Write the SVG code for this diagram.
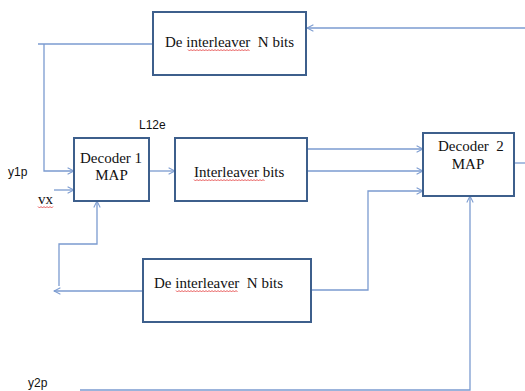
<svg xmlns="http://www.w3.org/2000/svg" width="525" height="391" viewBox="0 0 525 391">
<defs>
<marker id="arr" viewBox="0 0 10 10" refX="9" refY="5" markerWidth="8" markerHeight="8" markerUnits="userSpaceOnUse" orient="auto">
<path d="M1,1 L9,5 L1,9" fill="none" stroke="#7b9bd0" stroke-width="1.3"/>
</marker>
<style>
.box{fill:#fff;stroke:#3d5f8c;stroke-width:2}
.ser{font-family:"Liberation Serif","Times New Roman",serif;font-size:15px;fill:#111;white-space:pre}
.san{font-family:"Liberation Sans",Arial,sans-serif;font-size:12px;fill:#111}
.c{fill:none;stroke:#7b9bd0;stroke-width:1.3}
.sq{fill:none;stroke:#e03030;stroke-width:0.8}
</style>
</defs>
<rect width="525" height="391" fill="#fff"/>
<g id="connectors">
<path class="c" d="M525,28 H307" marker-end="url(#arr)"/>
<path class="c" d="M38,44 H153"/>
<path class="c" d="M44,44 V171 H74" marker-end="url(#arr)"/>
<path class="c" d="M54,190 H74" marker-end="url(#arr)"/>
<path class="c" d="M59,286 V244 H97 V201" marker-end="url(#arr)"/>
<path class="c" d="M143,291 H54" marker-end="url(#arr)"/>
<path class="c" d="M149,171 H175" marker-end="url(#arr)"/>
<path class="c" d="M307,149 H423" marker-end="url(#arr)"/>
<path class="c" d="M307,171 H423" marker-end="url(#arr)"/>
<path class="c" d="M311,290 H368 V191 H423" marker-end="url(#arr)"/>
<path class="c" d="M80,390 H470 V196" marker-end="url(#arr)"/>
<path class="c" d="M514,163 H525"/>
</g>
<g id="deinterleaver-top">
<rect class="box" x="153" y="12" width="153" height="63"/>
<text class="ser" x="165" y="47" xml:space="preserve">De interleaver  N bits</text>
<path class="sq" d="M188,49.5 l1.5,1.5 l1.5,-1.5 l1.5,1.5 l1.5,-1.5 l1.5,1.5 l1.5,-1.5 l1.5,1.5 l1.5,-1.5 l1.5,1.5 l1.5,-1.5 l1.5,1.5 l1.5,-1.5 l1.5,1.5 l1.5,-1.5 l1.5,1.5 l1.5,-1.5 l1.5,1.5 l1.5,-1.5 l1.5,1.5 l1.5,-1.5 l1.5,1.5 l1.5,-1.5 l1.5,1.5 l1.5,-1.5 l1.5,1.5 l1.5,-1.5 l1.5,1.5 l1.5,-1.5 l1.5,1.5 l1.5,-1.5 l1.5,1.5 l1.5,-1.5 l1.5,1.5 l1.5,-1.5 l1.5,1.5 l1.5,-1.5 l1.5,1.5 l1.5,-1.5 l1.5,1.5 l1.5,-1.5 l1.5,1.5"/>
</g>
<g id="decoder1">
<rect class="box" x="74" y="138" width="75" height="63"/>
<text class="ser" x="80" y="163">Decoder 1</text>
<text class="ser" x="111.5" y="180" text-anchor="middle">MAP</text>
</g>
<g id="interleaver">
<rect class="box" x="175" y="138" width="132" height="63"/>
<text class="ser" x="194" y="177">Interleaver bits</text>
<path class="sq" d="M194,179.5 l1.5,1.5 l1.5,-1.5 l1.5,1.5 l1.5,-1.5 l1.5,1.5 l1.5,-1.5 l1.5,1.5 l1.5,-1.5 l1.5,1.5 l1.5,-1.5 l1.5,1.5 l1.5,-1.5 l1.5,1.5 l1.5,-1.5 l1.5,1.5 l1.5,-1.5 l1.5,1.5 l1.5,-1.5 l1.5,1.5 l1.5,-1.5 l1.5,1.5 l1.5,-1.5 l1.5,1.5 l1.5,-1.5 l1.5,1.5 l1.5,-1.5 l1.5,1.5 l1.5,-1.5 l1.5,1.5 l1.5,-1.5 l1.5,1.5 l1.5,-1.5 l1.5,1.5 l1.5,-1.5 l1.5,1.5 l1.5,-1.5 l1.5,1.5 l1.5,-1.5 l1.5,1.5 l1.5,-1.5 l1.5,1.5 l1.5,-1.5 l1.5,1.5 l1.5,-1.5 l1.5,1.5 l1.5,-1.5 l1.5,1.5"/>
</g>
<g id="decoder2">
<rect class="box" x="423" y="133" width="91" height="63"/>
<text class="ser" x="438" y="151" xml:space="preserve">Decoder  2</text>
<text class="ser" x="468" y="169" text-anchor="middle">MAP</text>
</g>
<g id="deinterleaver-bottom">
<rect class="box" x="143" y="259" width="168" height="63"/>
<text class="ser" x="154" y="288" xml:space="preserve">De interleaver  N bits</text>
<path class="sq" d="M176,290.5 l1.5,1.5 l1.5,-1.5 l1.5,1.5 l1.5,-1.5 l1.5,1.5 l1.5,-1.5 l1.5,1.5 l1.5,-1.5 l1.5,1.5 l1.5,-1.5 l1.5,1.5 l1.5,-1.5 l1.5,1.5 l1.5,-1.5 l1.5,1.5 l1.5,-1.5 l1.5,1.5 l1.5,-1.5 l1.5,1.5 l1.5,-1.5 l1.5,1.5 l1.5,-1.5 l1.5,1.5 l1.5,-1.5 l1.5,1.5 l1.5,-1.5 l1.5,1.5 l1.5,-1.5 l1.5,1.5 l1.5,-1.5 l1.5,1.5 l1.5,-1.5 l1.5,1.5 l1.5,-1.5 l1.5,1.5 l1.5,-1.5 l1.5,1.5 l1.5,-1.5 l1.5,1.5 l1.5,-1.5 l1.5,1.5"/>
</g>
<g id="labels">
<text class="san" x="139" y="129">L12e</text>
<text class="san" x="8" y="176">y1p</text>
<text class="ser" x="38" y="204">vx</text>
<path class="sq" d="M38,206.5 l1.5,1.5 l1.5,-1.5 l1.5,1.5 l1.5,-1.5 l1.5,1.5 l1.5,-1.5 l1.5,1.5 l1.5,-1.5 l1.5,1.5 l1.5,-1.5"/>
<text class="san" x="28" y="387">y2p</text>
</g>
</svg>
